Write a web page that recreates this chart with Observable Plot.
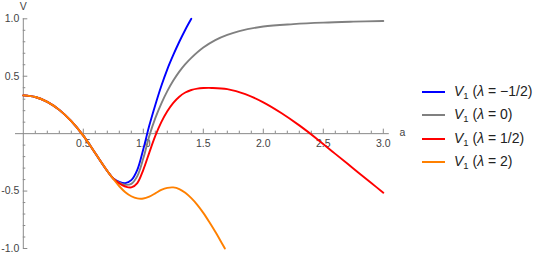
<!DOCTYPE html>
<html>
<head>
<meta charset="utf-8">
<script src="https://cdn.jsdelivr.net/npm/d3@7"></script>
<script src="https://cdn.jsdelivr.net/npm/@observablehq/plot@0.6"></script>
<style>
  html, body { margin: 0; padding: 0; background: #fff; }
  #wrap { position: relative; width: 545px; height: 256px; font-family: "Liberation Sans", Arial, sans-serif; }
  #chart { position: absolute; left: 0; top: 0; }
  #legend { position: absolute; left: 422px; top: 80px; }
  .item { display: flex; align-items: center; height: 23.5px; font-size: 14px; color: #222; white-space: nowrap; }
  .swatch { width: 23px; height: 2px; margin-right: 9px; }
  sub { font-size: 9.5px; vertical-align: -3px; }
</style>
</head>
<body>
<div id="wrap"><div id="chart"></div><div id="legend"></div></div>
<script>
// Series labels (λ values) and colours
const lambdas = ["\u22121/2", "0", "1/2", "2"];
const colors = ["#0000ff", "#808080", "#ff0000", "#ff8000"];

// λ = -1/2 (blue)
const aBlue = [0, 0.1, 0.2, 0.3, 0.4, 0.5, 0.6, 0.7, 0.75, 0.8, 0.85, 0.9, 0.95, 1.0, 1.05, 1.1, 1.15, 1.2, 1.25, 1.3, 1.35, 1.4];
const vBlue = [0.333, 0.319, 0.277, 0.207, 0.109, -0.017, -0.171, -0.325, -0.39, -0.42, -0.431, -0.405, -0.315, -0.135, 0.07, 0.25, 0.415, 0.56, 0.685, 0.8, 0.905, 1.0];

// λ = 0 (gray)
const aGray = [0, 0.1, 0.2, 0.3, 0.4, 0.5, 0.6, 0.7, 0.75, 0.8, 0.85, 0.9, 0.95, 1.0, 1.05, 1.1, 1.15, 1.2, 1.25, 1.3, 1.35, 1.4, 1.5, 1.6, 1.7, 1.8, 2.0, 2.25, 2.5, 2.75, 3.0];
const vGray = [0.333, 0.319, 0.277, 0.207, 0.109, -0.017, -0.171, -0.325, -0.39, -0.427, -0.445, -0.437, -0.37, -0.215, -0.02, 0.135, 0.262, 0.37, 0.462, 0.54, 0.605, 0.66, 0.75, 0.815, 0.86, 0.893, 0.933, 0.954, 0.967, 0.975, 0.981];

// λ = 1/2 (red)
const aRed = [0, 0.1, 0.2, 0.3, 0.4, 0.5, 0.6, 0.7, 0.75, 0.8, 0.85, 0.9, 0.95, 1.0, 1.05, 1.1, 1.15, 1.2, 1.25, 1.3, 1.35, 1.4, 1.45, 1.5, 1.57, 1.7, 1.85, 2.0, 2.15, 2.3, 2.45, 2.6, 2.75, 2.9, 3.0];
const vRed = [0.333, 0.319, 0.277, 0.207, 0.109, -0.017, -0.171, -0.325, -0.392, -0.433, -0.46, -0.468, -0.43, -0.315, -0.165, -0.02, 0.1, 0.195, 0.268, 0.322, 0.358, 0.38, 0.392, 0.397, 0.398, 0.388, 0.345, 0.273, 0.18, 0.072, -0.048, -0.176, -0.303, -0.43, -0.514];

// λ = 2 (orange)
const aOrange = [0, 0.1, 0.2, 0.3, 0.4, 0.5, 0.6, 0.7, 0.75, 0.8, 0.85, 0.9, 0.95, 1.0, 1.05, 1.1, 1.15, 1.2, 1.25, 1.3, 1.35, 1.4, 1.45, 1.5, 1.55, 1.6, 1.65, 1.68];
const vOrange = [0.333, 0.319, 0.277, 0.207, 0.109, -0.017, -0.171, -0.325, -0.395, -0.458, -0.51, -0.545, -0.564, -0.565, -0.548, -0.52, -0.49, -0.472, -0.468, -0.482, -0.515, -0.562, -0.62, -0.69, -0.77, -0.855, -0.945, -1.0];

// Axis ticks
const xMajor = [0.5, 1.0, 1.5, 2.0, 2.5, 3.0];
const xMinor = [0.1, 0.2, 0.3, 0.4, 0.6, 0.7, 0.8, 0.9, 1.1, 1.2, 1.3, 1.4, 1.6, 1.7, 1.8, 1.9, 2.1, 2.2, 2.3, 2.4, 2.6, 2.7, 2.8, 2.9];
const yMajor = [-1.0, -0.5, 0.5, 1.0];
const yMinor = [-0.9, -0.8, -0.7, -0.6, -0.4, -0.3, -0.2, -0.1, 0.1, 0.2, 0.3, 0.4, 0.6, 0.7, 0.8, 0.9];

const seriesA = [aBlue, aGray, aRed, aOrange];
const seriesV = [vBlue, vGray, vRed, vOrange];
const rows = [];
lambdas.forEach((l, k) => {
  seriesA[k].forEach((a, i) => rows.push({a, v: seriesV[k][i], s: l}));
});

const axisColor = "#8a8a8a";
const labelColor = "#444";

const chart = Plot.plot({
  width: 410,
  height: 256,
  marginLeft: 15,
  marginRight: 21.2,
  marginTop: 18.3,
  marginBottom: 8,
  style: {fontFamily: "Liberation Sans, Arial, sans-serif", fontSize: "10.5px", background: "transparent"},
  x: {domain: [-0.065, 3.05], axis: null},
  y: {domain: [-1, 1], axis: null},
  color: {domain: lambdas, range: colors},
  marks: [
    Plot.ruleY([0], {stroke: axisColor, strokeWidth: 1}),
    Plot.ruleX([0], {stroke: axisColor, strokeWidth: 1}),
    Plot.ruleX(xMinor, {x: d => d, y1: 0, y2: 0, insetTop: -2.5, stroke: axisColor}),
    Plot.ruleX(xMajor, {x: d => d, y1: 0, y2: 0, insetTop: -4.5, stroke: axisColor}),
    Plot.ruleY(yMinor, {y: d => d, x1: 0, x2: 0, insetRight: -2.5, stroke: axisColor}),
    Plot.ruleY(yMajor, {y: d => d, x1: 0, x2: 0, insetRight: -4.5, stroke: axisColor}),
    Plot.text(xMajor, {x: d => d, y: 0, text: d => d.toFixed(1), dy: 10, fill: labelColor}),
    Plot.text(yMajor, {x: 0, y: d => d, text: d => (d < 0 ? "-" : "") + Math.abs(d).toFixed(1), textAnchor: "end", dx: -4, fill: labelColor}),
    Plot.text(["V"], {x: 0, y: 1, text: d => d, dy: -12, fill: labelColor}),
    Plot.text(["a"], {x: 3.05, y: 0, text: d => d, dx: 13, dy: -1, fill: labelColor}),
    Plot.line(rows, {x: "a", y: "v", z: "s", stroke: "s", strokeWidth: 1.9, curve: "catmull-rom"})
  ]
});
document.getElementById("chart").appendChild(chart);

const legend = document.getElementById("legend");
lambdas.forEach((l, k) => {
  const item = document.createElement("div");
  item.className = "item";
  item.innerHTML = `<span class="swatch" style="background:${colors[k]}"></span><span><i>V</i><sub>1</sub> (<i>\u03bb</i> = ${l})</span>`;
  legend.appendChild(item);
});
</script>
</body>
</html>
